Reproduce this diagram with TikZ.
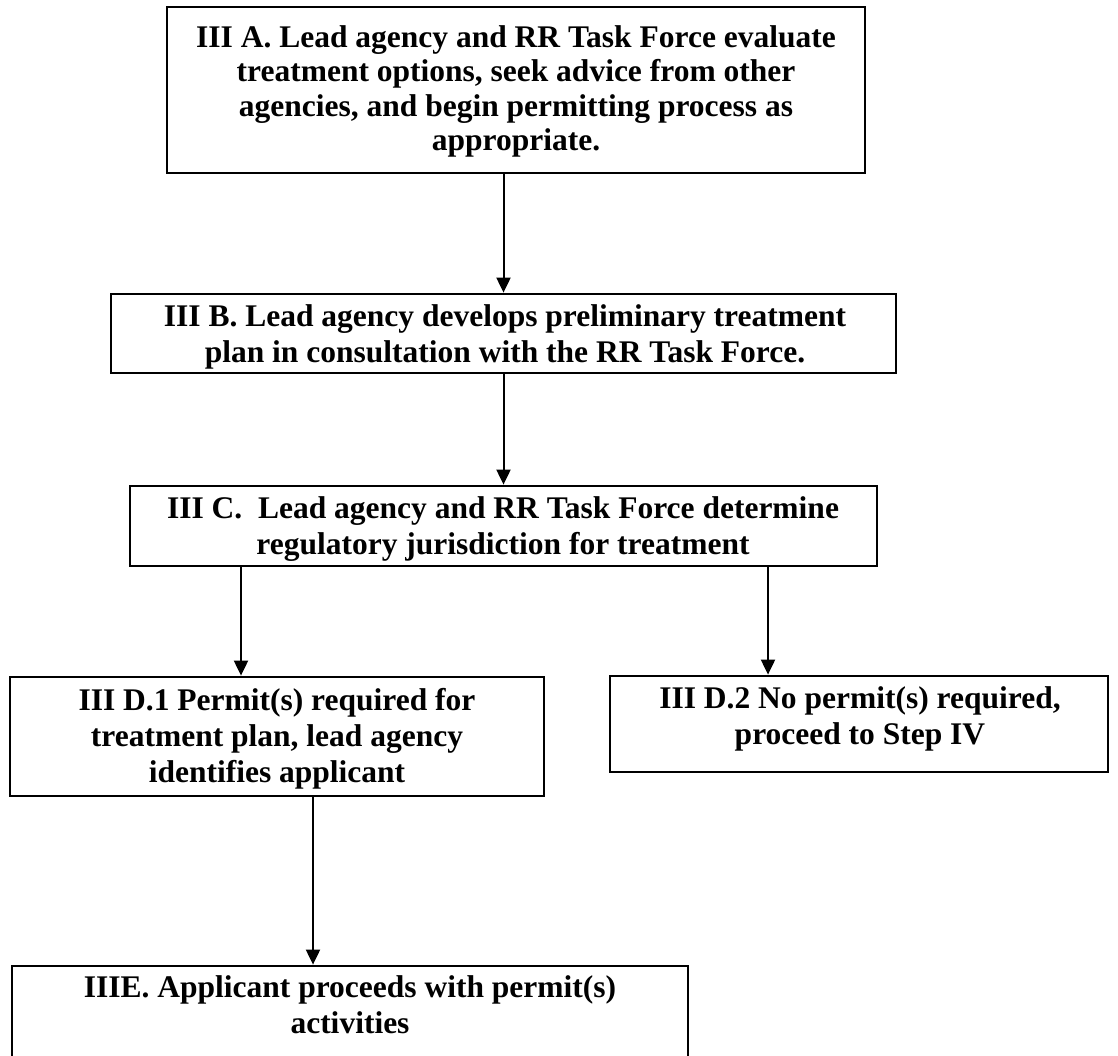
\documentclass[tikz,border=0pt]{standalone}
\usepackage{fontspec}
\setmainfont{Liberation Serif}
\usetikzlibrary{arrows.meta}
\begin{document}
\frenchspacing
\begin{tikzpicture}[x=1pt,y=-1pt,
  frame/.style={draw, line width=2.8pt, inner sep=0pt},
  txt/.style={font=\bfseries\fontsize{31.5}{36}\selectfont, align=center, anchor=north, inner sep=0pt},
  conn/.style={line width=2pt, -{Triangle[length=15pt,width=14pt]}}]

\useasboundingbox (0,0) rectangle (1118,1055);
\clip (0,0) rectangle (1118,1055);

% boxes
\node[frame, minimum width=698pt, minimum height=166pt] (A)  at (516,90)    {};
\node[frame, minimum width=785pt, minimum height=79pt]  (B)  at (503.5,333.5) {};
\node[frame, minimum width=747pt, minimum height=80pt]  (C)  at (503.5,526) {};
\node[frame, minimum width=534pt, minimum height=119pt] (D1) at (277,736.5) {};
\node[frame, minimum width=498pt, minimum height=96pt]  (D2) at (859,724)   {};
\node[frame, minimum width=676pt, minimum height=120pt] (E)  at (350,1026)  {};

% box texts
\node[txt, font=\bfseries\fontsize{31.5}{34.5}\selectfont] (At) at (516,25)
  {III A. Lead agency and RR Task Force evaluate\\
  treatment options, seek advice from other\\
  agencies, and begin permitting process as\\
  appropriate.};
\node[txt] (Bt) at (505,304) {III B. Lead agency develops preliminary treatment\\
  plan in consultation with the RR Task Force.};
\node[txt] (Ct) at (503,496) {III C.\ \ Lead agency and RR Task Force determine\\
  regulatory jurisdiction for treatment};
\node[txt] (D1t) at (277,688) {III D.1 Permit(s) required for\\
  treatment plan, lead agency\\
  identifies applicant};
\node[txt] (D2t) at (860,686) {III D.2 No permit(s) required,\\
  proceed to Step IV};
\node[txt] (Et) at (350,975) {IIIE. Applicant proceeds with permit(s)\\
  activities};

% connectors
\coordinate (xl) at (241,0);
\coordinate (xr) at (768,0);
\coordinate (xe) at (313,0);
\draw[conn] (A.south -| B.north) -- (B.north);
\draw[conn] (B.south) -- (C.north);
\draw[conn] (C.south -| xl) -- (D1.north -| xl);
\draw[conn] (C.south -| xr) -- (D2.north -| xr);
\draw[conn] (D1.south -| xe) -- (E.north -| xe);
\end{tikzpicture}
\end{document}
